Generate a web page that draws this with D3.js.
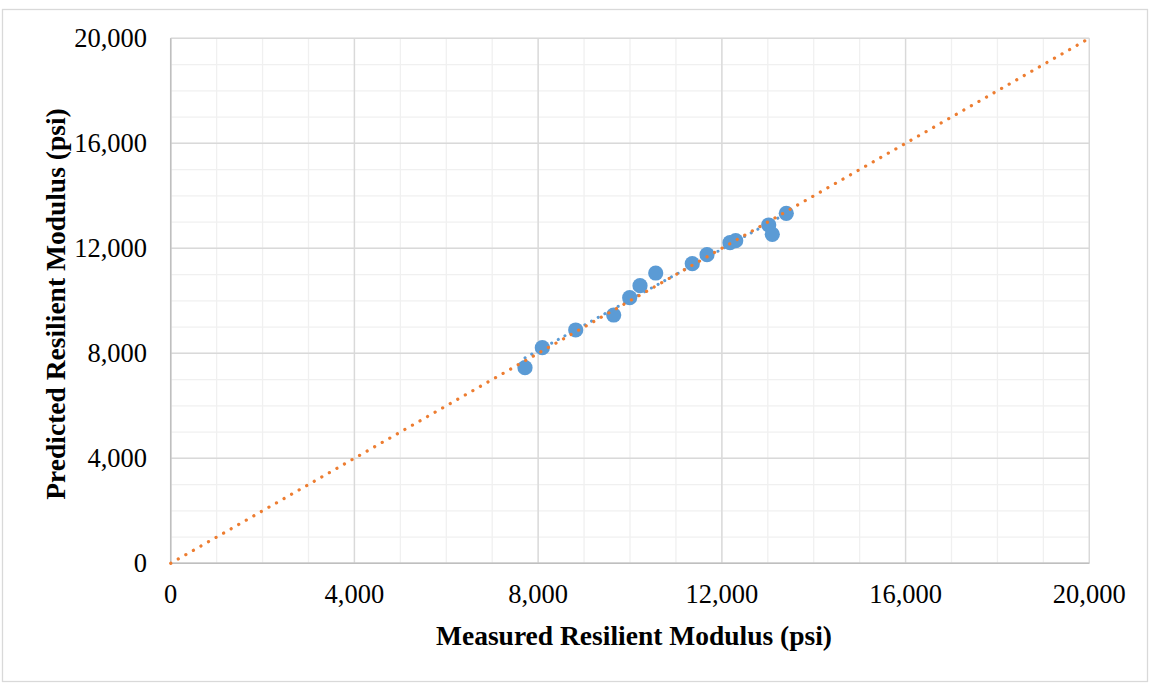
<!DOCTYPE html>
<html>
<head>
<meta charset="utf-8">
<script src="https://cdn.jsdelivr.net/npm/d3@7"></script>
<style>
  html, body { margin: 0; padding: 0; background: #fff; }
  svg { display: block; }
</style>
</head>
<body>
<svg id="chart" width="1160" height="687"></svg>
<script>
// Measured vs. predicted resilient modulus (psi)
const measured  = [7714, 8091, 8818, 9645, 9993, 10218, 10560, 11356, 11677, 12177, 12301, 13020, 13098, 13403];
const predicted = [7451, 8213, 8888, 9459, 10118, 10575, 11059, 11413, 11756, 12213, 12290, 12888, 12533, 13333];
const majorTicks = [0, 4000, 8000, 12000, 16000, 20000];
const minorTicks = d3.range(0, 20001, 1000);
const equalityLine = [[0, 0], [20000, 20000]];
const xTitle = "Measured Resilient Modulus (psi)";
const yTitle = "Predicted Resilient Modulus (psi)";

const svg = d3.select("#chart");
const plot = { left: 170.7, right: 1089.3, top: 38.3, bottom: 563.3 };

const x = d3.scaleLinear().domain([0, 20000]).range([plot.left, plot.right]);
const y = d3.scaleLinear().domain([0, 20000]).range([plot.bottom, plot.top]);
const fmt = d3.format(",");
const font = "'Liberation Serif', 'Times New Roman', serif";

// chart frame
svg.append("rect")
  .attr("x", 2.5).attr("y", 9.5).attr("width", 1145).attr("height", 672)
  .attr("fill", "#fff").attr("stroke", "#d9d9d9").attr("stroke-width", 1.3);

// minor grid
const g = svg.append("g");
g.selectAll(".mx").data(minorTicks).join("line")
  .attr("x1", d => x(d)).attr("x2", d => x(d))
  .attr("y1", plot.top).attr("y2", plot.bottom)
  .attr("stroke", "#f0f0f0").attr("stroke-width", 1.3);
g.selectAll(".my").data(minorTicks).join("line")
  .attr("y1", d => y(d)).attr("y2", d => y(d))
  .attr("x1", plot.left).attr("x2", plot.right)
  .attr("stroke", "#f0f0f0").attr("stroke-width", 1.3);

// major grid
g.selectAll(".Mx").data(majorTicks).join("line")
  .attr("x1", d => x(d)).attr("x2", d => x(d))
  .attr("y1", plot.top).attr("y2", plot.bottom)
  .attr("stroke", "#d9d9d9").attr("stroke-width", 1.4);
g.selectAll(".My").data(majorTicks).join("line")
  .attr("y1", d => y(d)).attr("y2", d => y(d))
  .attr("x1", plot.left).attr("x2", plot.right)
  .attr("stroke", "#d9d9d9").attr("stroke-width", 1.4);

// axis lines
svg.append("line").attr("x1", plot.left).attr("x2", plot.right)
  .attr("y1", plot.bottom).attr("y2", plot.bottom)
  .attr("stroke", "#bfbfbf").attr("stroke-width", 1.5);
svg.append("line").attr("x1", plot.left).attr("x2", plot.left)
  .attr("y1", plot.top).attr("y2", plot.bottom)
  .attr("stroke", "#bfbfbf").attr("stroke-width", 1.5);

// tick labels
svg.append("g").selectAll("text").data(majorTicks).join("text")
  .attr("x", d => x(d)).attr("y", 603)
  .attr("text-anchor", "middle")
  .attr("font-family", font).attr("font-size", 26.5).attr("fill", "#000")
  .text(d => fmt(d));
svg.append("g").selectAll("text").data(majorTicks).join("text")
  .attr("x", 147).attr("y", d => y(d) + 8.6)
  .attr("text-anchor", "end")
  .attr("font-family", font).attr("font-size", 26.5).attr("fill", "#000")
  .text(d => fmt(d));

// axis titles
svg.append("text")
  .attr("x", 634).attr("y", 645)
  .attr("text-anchor", "middle")
  .attr("font-family", font).attr("font-size", 27.5).attr("font-weight", "bold")
  .text(xTitle);
svg.append("text")
  .attr("transform", `translate(65,304) rotate(-90)`)
  .attr("text-anchor", "middle")
  .attr("font-family", font).attr("font-size", 27.5).attr("font-weight", "bold")
  .text(yTitle);

// linear trendline through the data
const n = measured.length;
const mx = d3.mean(measured), my = d3.mean(predicted);
let sxy = 0, sxx = 0;
for (let i = 0; i < n; i++) {
  sxy += (measured[i] - mx) * (predicted[i] - my);
  sxx += (measured[i] - mx) ** 2;
}
const slope = sxy / sxx, intercept = my - slope * mx;
const [xmin, xmax] = d3.extent(measured);
const line = d3.line().x(d => x(d[0])).y(d => y(d[1]));

svg.append("path")
  .datum([[xmin, intercept + slope * xmin], [xmax, intercept + slope * xmax]])
  .attr("d", line).attr("fill", "none")
  .attr("stroke", "#5b9bd5").attr("stroke-width", 3)
  .attr("stroke-linecap", "round").attr("stroke-dasharray", "0.1 7.5");

// data points
svg.append("g").selectAll("circle").data(measured).join("circle")
  .attr("cx", d => x(d)).attr("cy", (d, i) => y(predicted[i]))
  .attr("r", 7.6).attr("fill", "#5b9bd5");

// 1:1 line
svg.append("path")
  .datum(equalityLine)
  .attr("d", line).attr("fill", "none")
  .attr("stroke", "#ed7d31").attr("stroke-width", 3.2)
  .attr("stroke-linecap", "round").attr("stroke-dasharray", "0.1 8.6");
</script>
</body>
</html>
